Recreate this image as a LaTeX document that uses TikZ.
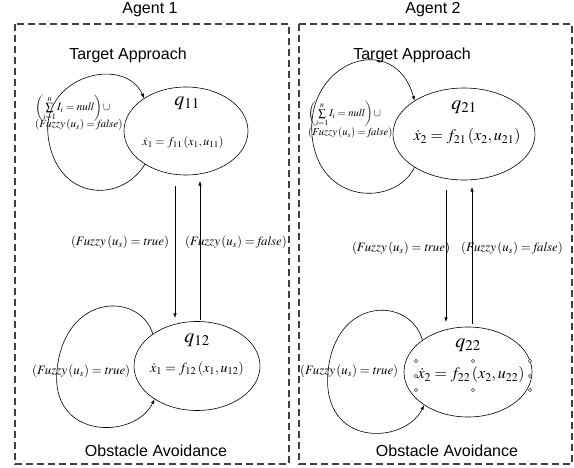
\documentclass[tikz,border=0pt]{standalone}
\usepackage{amsmath}
\usepackage{mathptmx}
\usepackage[no-math]{fontspec}
\setmainfont{Liberation Sans}
\usepackage{tikz}
\usetikzlibrary{shapes.geometric, arrows.meta}
\newcommand{\fuzzy}[1]{\left(\mathit{Fuzzy}\left(u_s\right)=\mathit{#1}\right)}
\newcommand{\sumnull}{\left(\sum\limits_{i=1}^{n} I_i=\mathit{null}\right)\cup}

\begin{document}
\begin{tikzpicture}[x=1pt, y=-1pt,
    agentbox/.style={draw=black!75, line width=1.2pt, dash pattern=on 7pt off 4pt},
    statebox/.style={ellipse, draw, line width=0.6pt, inner sep=0pt},
    title/.style={font=\fontsize{16}{18}\selectfont},
    qname/.style={font=\fontsize{20}{22}\selectfont},
    cond/.style={font=\fontsize{11}{12}\selectfont, inner sep=0pt, anchor=west},
    guard/.style={font=\fontsize{12.8}{14}\selectfont, inner sep=0pt},
    trans/.style={-latex, line width=0.6pt}]
    % Bordi della figura
    \useasboundingbox (0,0) rectangle (574,468);
    % Riquadri degli agenti
    \draw[agentbox] (15,24) rectangle (289,464);
    \draw[agentbox] (299,24) rectangle (572,464);
    \node[title] (ag1) at (150,10) {Agent 1};
    \node[title] (ag2) at (433,10) {Agent 2};
    \node[title] (ta1) at (128,55) {Target Approach};
    \node[title] (ta2) at (412,55) {Target Approach};
    \node[title] (oa1) at (156,451) {Obstacle Avoidance};
    \node[title] (oa2) at (447,451) {Obstacle Avoidance};
    % Stati dell'agente 1
    \node[statebox, minimum width=124pt, minimum height=88pt] (q11) at (186,131) {};
    \node[qname] (q11n) at (187,103) {$q_{11}$};
    \node[font=\fontsize{12}{14}\selectfont] (q11e) at (183,143) {$\dot{x}_1=f_{11}\left(x_1,u_{11}\right)$};
    \node[statebox, minimum width=126pt, minimum height=89pt] (q12) at (197,366) {};
    \node[qname] (q12n) at (197,340) {$q_{12}$};
    \node[font=\fontsize{14}{16}\selectfont] (q12e) at (197,369) {$\dot{x}_1=f_{12}\left(x_1,u_{12}\right)$};
    % Stati dell'agente 2
    \node[statebox, minimum width=142pt, minimum height=92pt] (q21) at (464,134) {};
    \node[qname] (q21n) at (464,107) {$q_{21}$};
    \node[font=\fontsize{16}{18}\selectfont] (q21e) at (467,137) {$\dot{x}_2=f_{21}\left(x_2,u_{21}\right)$};
    \node[statebox, minimum width=128pt, minimum height=90pt] (q22) at (468,372) {};
    \node[qname] (q22n) at (468,345) {$q_{22}$};
    \node[font=\fontsize{16}{18}\selectfont] (q22e) at (471,375) {$\dot{x}_2=f_{22}\left(x_2,u_{22}\right)$};
    % maniglie di selezione attorno all'equazione
    \foreach \hx/\hy in {416/361, 416/376, 416/390, 473/361, 473/390, 530/361, 530/376, 530/390}
        \draw[line width=0.4pt, fill=white] (\hx,\hy) circle (1.6pt);
    % Anelli su se stessi
    \draw[trans] (q11.219) .. controls (120,205) and (55,200) .. (48,135)
        .. controls (42,75) and (125,55) .. (q11.142);
    \draw[trans] (q12.144) .. controls (140,292) and (65,292) .. (57,370)
        .. controls (50,440) and (135,440) .. (q12.218);
    \draw[trans] (q21.214) .. controls (395,207) and (318,205) .. (312,135)
        .. controls (306,60) and (395,30) .. (q21.146);
    \draw[trans] (q22.145) .. controls (410,296) and (335,296) .. (328,372)
        .. controls (321,448) and (405,445) .. (q22.217);
    % Etichette degli anelli
    \node[cond] (c11a) at (35,108) {$\sumnull$};
    \node[cond] (c11b) at (35,125) {$\fuzzy{false}$};
    \node[cond, font=\fontsize{10.6}{12}\selectfont] (c21a) at (308,114) {$\sumnull$};
    \node[cond, font=\fontsize{10.6}{12}\selectfont] (c21b) at (308,133) {$\fuzzy{false}$};
    \node[guard, anchor=west] (c12) at (32,371) {$\fuzzy{true}$};
    \node[guard, anchor=west] (c22) at (300,371) {$\fuzzy{true}$};
    % Transizioni fra gli stati
    \coordinate (d1a) at (175,186); \coordinate (d1b) at (175,318);
    \coordinate (u1a) at (200,320); \coordinate (u1b) at (200,181);
    \coordinate (d2a) at (446,190); \coordinate (d2b) at (446,322);
    \coordinate (u2a) at (472,324); \coordinate (u2b) at (472,187);
    \draw[trans] (d1a) -- (d1b);
    \draw[trans] (u1a) -- (u1b);
    \draw[trans] (d2a) -- (d2b);
    \draw[trans] (u2a) -- (u2b);
    \node[guard] (g1t) at (120,242) {$\fuzzy{true}$};
    \node[guard] (g1f) at (236,242) {$\fuzzy{false}$};
    \node[guard] (g2t) at (401,248) {$\fuzzy{true}$};
    \node[guard] (g2f) at (512,248) {$\fuzzy{false}$};
\end{tikzpicture}
\end{document}
